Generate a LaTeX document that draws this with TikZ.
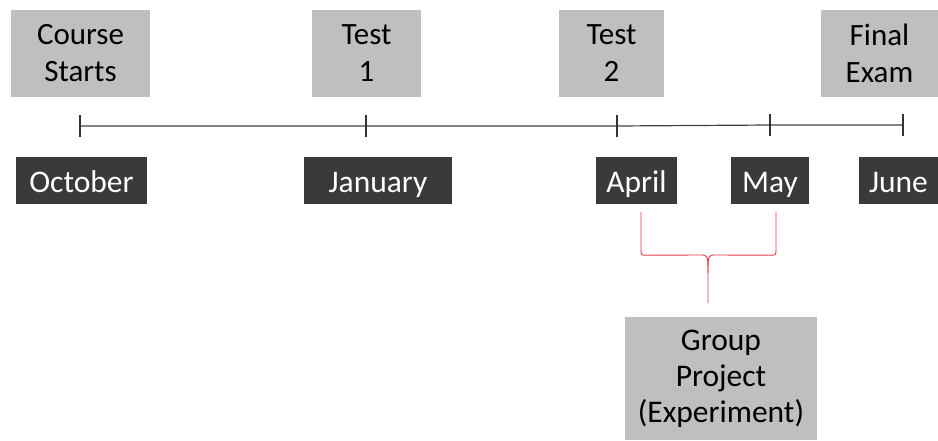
\documentclass[tikz,border=0pt]{standalone}
\usepackage{fontspec}
\setmainfont{Carlito}
\definecolor{lightbox}{HTML}{BFBFBF}
\definecolor{darkbox}{HTML}{3A3A3A}
\definecolor{axis}{HTML}{404040}
\definecolor{bracered}{HTML}{E23A48}
\begin{document}
\begin{tikzpicture}[x=1pt,y=-1pt,
  event/.style={fill=lightbox, draw=none, inner sep=0pt, align=center, text=black,
    font=\fontsize{31}{37}\selectfont, minimum height=87pt},
  month/.style={fill=darkbox, draw=none, inner sep=0pt, text=white,
    font=\fontsize{31.5}{37}\selectfont, minimum height=47pt,
    text height=25pt, text depth=2pt},
  project/.style={fill=lightbox, draw=none, inner sep=0pt, align=center, text=black,
    font=\fontsize{31.5}{36}\selectfont, minimum width=192pt, minimum height=123pt},
  tl/.style={draw=axis, line width=1.2pt},
  tick/.style={draw=axis!80!black, line width=2.2pt},
  brace/.style={draw=bracered, line width=0.9pt}]
\useasboundingbox (0,0) rectangle (938,440);
% event boxes
\node[event, minimum width=139pt] (cs) at (80.5,53.5) {Course\\Starts};
\node[event, minimum width=109pt] (t1) at (366.5,53.5) {Test\\1};
\node[event, minimum width=105pt] (t2) at (611.5,53.5) {Test\\2};
\node[event, minimum width=117pt] (fe) at (879.5,53.5) {Final\\Exam};
% timeline points
\coordinate (p0) at (80,126);
\coordinate (p1) at (366,126);
\coordinate (p2) at (617,126);
\coordinate (p3) at (770,125);
\coordinate (p4) at (903,125);
\draw[tl] (p0) -- (p1) -- (p2) -- (p3) -- (p4);
\foreach \p in {p0,p1,p2,p3,p4}{
  \draw[tick] ([yshift=11pt]\p) -- ([yshift=-11pt]\p);
}
% month boxes
\node[month, minimum width=131pt] (oct) at (81.5,180.5) {October};
\node[month, minimum width=148pt] (jan) at (378,180.5) {January};
\node[month, minimum width=81pt] (apr) at (636.5,180.5) {April};
\node[month, minimum width=78pt] (may) at (770,180.5) {May};
\node[month, minimum width=79pt] (jun) at (898.5,180.5) {June};
% group project
\node[project] (gp) at (721,378.5) {Group\\Project\\(Experiment)};
% brace
\coordinate (bl) at ([xshift=4.5pt,yshift=-8pt]apr.south);
\coordinate (br) at ([xshift=6pt,yshift=-8pt]may.south);
\coordinate (bm) at (708,303);
\draw[brace] (bl) -- ++(0,37) .. controls +(0,6) .. ++(6,6) -- (700,255)
  .. controls (708,255) .. (708,273) -- (bm);
\draw[brace] (br) -- ++(0,37) .. controls +(0,6) .. ++(-6,6) -- (716,255)
  .. controls (708,255) .. (708,273);
\end{tikzpicture}
\end{document}
